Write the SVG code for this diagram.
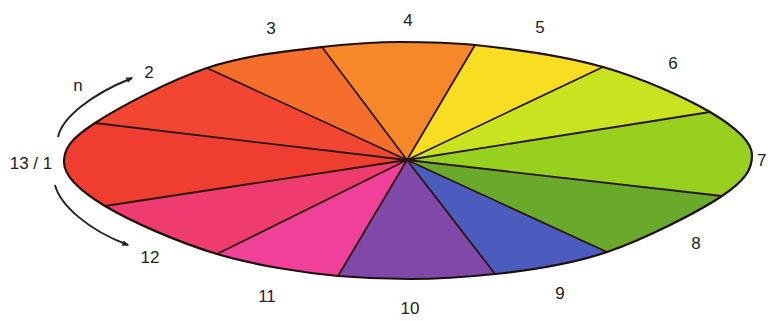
<svg xmlns="http://www.w3.org/2000/svg" xmlns:xlink="http://www.w3.org/1999/xlink" width="768" height="321" viewBox="0 0 768 321">
<style>
.lbl{font-family:"Liberation Sans",Arial,sans-serif;font-size:17px;fill:#222;}
.div{stroke:#2a140c;stroke-width:1.8;fill:none;stroke-linecap:round;}
.rim{stroke:#1e100a;stroke-width:2.2;fill:none;}
.arr{stroke:#222;stroke-width:1.9;fill:none;marker-end:url(#ah);}
</style>
<defs>
<path id="outline" d="M64,162 C64,148 71.17,138.67 95,123 C118.83,107.33 169.17,80.67 207,68 C244.83,55.33 289.83,50.5 322,47 C354.17,43.5 374.5,42 400,42 C425.5,42 445,42 475,45 C508.83,48.5 563.83,55.83 603,67 C642.17,78.17 685.17,97.33 710,112 C734.83,126.67 752,141 752,155 C752,169 746.17,179.83 722,196 C697.83,212.17 644.83,239 607,252 C569.17,265 527.83,270.5 495,274 C462.17,277.5 436.17,279 410,279 C383.83,279 368,278.5 338,276 C305.83,273 255.83,265.67 217,254 C178.17,242.33 130.5,221.33 105,206 C79.5,190.67 64,176 64,162 Z"/>
<clipPath id="clip"><use xlink:href="#outline"/></clipPath>
<marker id="ah" viewBox="0 0 10 10" refX="8" refY="5" markerWidth="7" markerHeight="7" orient="auto" markerUnits="userSpaceOnUse">
<path d="M0,1 L10,5 L0,9 Z" fill="#222"/>
</marker>
</defs>
<g clip-path="url(#clip)">
<g id="sector-1"><polygon points="407,160 -197,252 -217,86" fill="#EF3D30"/></g>
<g id="sector-2"><polygon points="407,160 -217,86 7,-24" fill="#F14732"/></g>
<g id="sector-3"><polygon points="407,160 7,-24 237,-66" fill="#F56E2C"/></g>
<g id="sector-4"><polygon points="407,160 237,-66 543,-70" fill="#F7882A"/></g>
<g id="sector-5"><polygon points="407,160 543,-70 799,-26" fill="#F9DD22"/></g>
<g id="sector-6"><polygon points="407,160 799,-26 1013,64" fill="#C8E420"/></g>
<g id="sector-7"><polygon points="407,160 1013,64 1037,232" fill="#98D020"/></g>
<g id="sector-8"><polygon points="407,160 1037,232 807,344" fill="#6AAA2A"/></g>
<g id="sector-9"><polygon points="407,160 807,344 583,388" fill="#4C5CBE"/></g>
<g id="sector-10"><polygon points="407,160 583,388 269,392" fill="#8048A8"/></g>
<g id="sector-11"><polygon points="407,160 269,392 27,348" fill="#F0409A"/></g>
<g id="sector-12"><polygon points="407,160 27,348 -197,252" fill="#EE3C70"/></g>
</g>
<g id="dividers">
<line class="div" x1="407" y1="160" x2="95" y2="123"/>
<line class="div" x1="407" y1="160" x2="207" y2="68"/>
<line class="div" x1="407" y1="160" x2="322" y2="47"/>
<line class="div" x1="407" y1="160" x2="475" y2="45"/>
<line class="div" x1="407" y1="160" x2="603" y2="67"/>
<line class="div" x1="407" y1="160" x2="710" y2="112"/>
<line class="div" x1="407" y1="160" x2="722" y2="196"/>
<line class="div" x1="407" y1="160" x2="607" y2="252"/>
<line class="div" x1="407" y1="160" x2="495" y2="274"/>
<line class="div" x1="407" y1="160" x2="338" y2="276"/>
<line class="div" x1="407" y1="160" x2="217" y2="254"/>
<line class="div" x1="407" y1="160" x2="105" y2="206"/>
</g>
<use xlink:href="#outline" class="rim"/>
<g id="connectors">
<path class="arr" d="M58,137 C62,118 90,95 132,78"/>
<path class="arr" d="M55,185 C60,205 88,230 128,245"/>
</g>
<g id="labels">
<text class="lbl" x="78" y="91" text-anchor="middle">n</text>
<text class="lbl" x="149" y="78" text-anchor="middle">2</text>
<text class="lbl" x="31" y="169" text-anchor="middle">13 / 1</text>
<text class="lbl" x="150" y="263" text-anchor="middle">12</text>
<text class="lbl" x="271" y="34" text-anchor="middle">3</text>
<text class="lbl" x="408" y="26" text-anchor="middle">4</text>
<text class="lbl" x="540" y="33" text-anchor="middle">5</text>
<text class="lbl" x="673" y="69" text-anchor="middle">6</text>
<text class="lbl" x="757" y="166">7</text>
<text class="lbl" x="696" y="249" text-anchor="middle">8</text>
<text class="lbl" x="560" y="299" text-anchor="middle">9</text>
<text class="lbl" x="410" y="314" text-anchor="middle">10</text>
<text class="lbl" x="267" y="302" text-anchor="middle">11</text>
</g>
</svg>
